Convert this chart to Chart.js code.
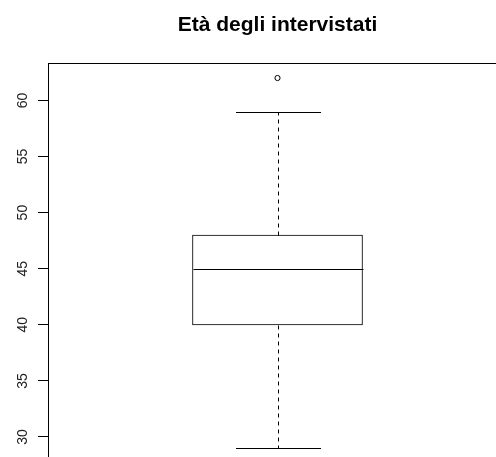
<!DOCTYPE html>
<html>
<head>
<meta charset="utf-8">
<script src="https://cdn.jsdelivr.net/npm/chart.js@4/dist/chart.umd.min.js"></script>
<style>
  html, body { margin: 0; padding: 0; background: #fff; overflow: hidden; }
  canvas { display: block; }
</style>
</head>
<body>
<canvas id="c" width="512" height="470"></canvas>
<script>
// Age of respondents: five-number summary plus outliers
const categories = ['Età'];
const lowerWhisker = [29];
const q1 = [40];
const median = [45];
const q3 = [48];
const upperWhisker = [59];
const outliers = [62];
const yTicks = [30, 35, 40, 45, 50, 55, 60];

const FONT = '"Liberation Sans", Arial, sans-serif';

// Whiskers, staples, median and plot frame drawn on top of the box
const boxplotExtras = {
  id: 'boxplotExtras',
  afterDatasetsDraw(chart) {
    const { ctx, chartArea, scales } = chart;
    const xs = scales.x, ys = scales.y;
    const bar = chart.getDatasetMeta(0).data;
    ctx.save();
    ctx.strokeStyle = '#000';
    ctx.lineWidth = 1;
    categories.forEach((c, i) => {
      const cx = Math.round(xs.getPixelForValue(i)) + 0.5;
      const half = bar[i].width / 2;
      const px = v => Math.round(ys.getPixelForValue(v)) + 0.5;
      // median
      ctx.beginPath();
      ctx.moveTo(cx - half, px(median[i]));
      ctx.lineTo(cx + half, px(median[i]));
      ctx.stroke();
      // dashed whiskers
      ctx.setLineDash([4, 4]);
      ctx.beginPath();
      ctx.moveTo(cx, px(q3[i]));
      ctx.lineTo(cx, px(upperWhisker[i]));
      ctx.moveTo(cx, px(q1[i]));
      ctx.lineTo(cx, px(lowerWhisker[i]));
      ctx.stroke();
      ctx.setLineDash([]);
      // staples, half the box width
      ctx.beginPath();
      ctx.moveTo(cx - half / 2, px(upperWhisker[i]));
      ctx.lineTo(cx + half / 2, px(upperWhisker[i]));
      ctx.moveTo(cx - half / 2, px(lowerWhisker[i]));
      ctx.lineTo(cx + half / 2, px(lowerWhisker[i]));
      ctx.stroke();
    });
    // plot frame
    ctx.strokeRect(Math.round(chartArea.left) + 0.5, Math.round(chartArea.top) + 0.5,
      Math.round(chartArea.width), Math.round(chartArea.height));
    ctx.restore();
  }
};

new Chart(document.getElementById('c'), {
  data: {
    labels: categories,
    datasets: [
      {
        type: 'bar',
        data: q1.map((v, i) => [v, q3[i]]),
        backgroundColor: '#fff',
        borderColor: '#000',
        borderWidth: 1,
        borderSkipped: false,
        barThickness: 170,
        order: 2
      },
      {
        type: 'line',
        data: outliers,
        showLine: false,
        pointStyle: 'circle',
        pointRadius: 2.6,
        pointBorderWidth: 1,
        pointBorderColor: '#000',
        pointBackgroundColor: '#fff',
        order: 1
      }
    ]
  },
  options: {
    responsive: false,
    animation: false,
    layout: { padding: { left: 0, right: 5, top: 0, bottom: 7 } },
    plugins: {
      legend: { display: false },
      tooltip: { enabled: false },
      title: {
        display: true,
        text: 'Età degli intervistati',
        fullSize: false,
        color: '#000',
        font: { family: FONT, size: 21, weight: 'bold' },
        padding: { top: 13, bottom: 25 }
      }
    },
    scales: {
      x: { type: 'category', display: false, offset: true },
      y: {
        type: 'linear',
        min: 27.68,
        max: 63.32,
        afterBuildTicks: s => { s.ticks = yTicks.map(v => ({ value: v })); },
        afterFit: s => { s.width = 48; s.paddingTop = 0; s.paddingBottom = 0; },
        border: { display: true, color: '#000', width: 1 },
        grid: { display: true, drawOnChartArea: false, drawTicks: true, tickLength: 10, color: '#000' },
        ticks: {
          color: '#222',
          minRotation: 90,
          maxRotation: 90,
          crossAlign: 'center',
          padding: 7,
          font: { family: FONT, size: 14 }
        }
      }
    }
  },
  plugins: [boxplotExtras]
});
</script>
</body>
</html>
